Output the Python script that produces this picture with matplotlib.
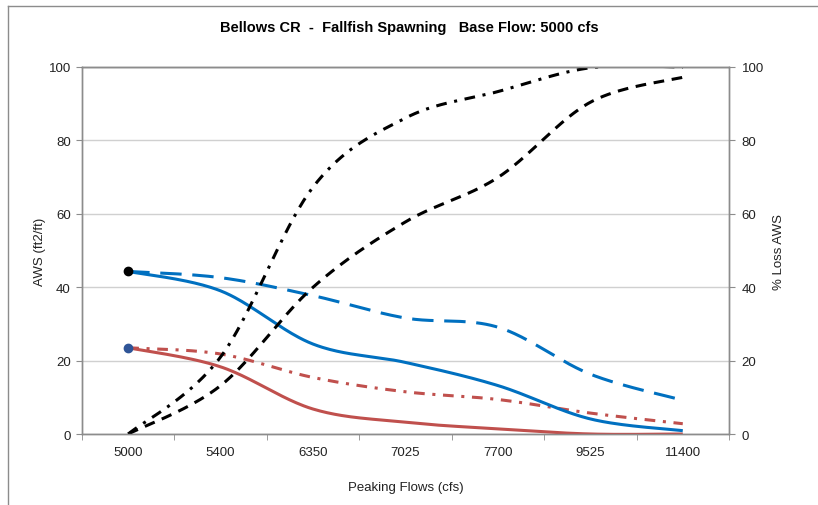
import numpy as np
import matplotlib
matplotlib.use("Agg")
import matplotlib.pyplot as plt
from matplotlib.lines import Line2D

plt.rcParams['font.family'] = ['Liberation Sans', 'DejaVu Sans']

categories = ["5000", "5400", "6350", "7025", "7700", "9525", "11400"]
# AWS (left axis)
aws_blue_solid = [44.3, 39.0, 24.5, 19.5, 13.2, 4.1, 0.9]
aws_blue_dash = [44.3, 42.6, 37.7, 31.6, 29.1, 16.3, 9.2]
aws_red_solid = [23.5, 18.3, 6.8, 3.2, 1.4, 0.0, 0.0]
aws_red_dashdot = [23.5, 21.8, 15.4, 11.5, 9.4, 5.7, 2.8]
# % Loss AWS (right axis)
loss_dashdot = [0.0, 21.0, 67.3, 86.1, 93.3, 99.8, 100.0]
loss_dash = [0.0, 13.2, 40.0, 57.8, 69.9, 90.4, 97.2]

title = "Bellows CR  -  Fallfish Spawning   Base Flow: 5000 cfs"


def smooth(y, n=40):
    """Excel-like smoothed line (Catmull-Rom Bezier)."""
    x = np.arange(len(y), dtype=float)
    y = np.asarray(y, dtype=float)
    P = np.column_stack([x, y])
    out = []
    for i in range(len(P) - 1):
        p0 = P[i - 1] if i > 0 else P[i]
        p1 = P[i]
        p2 = P[i + 1]
        p3 = P[i + 2] if i + 2 < len(P) else P[i + 1]
        c1 = p1 + (p2 - p0) / 6.0
        c2 = p2 - (p3 - p1) / 6.0
        t = np.linspace(0, 1, n)[:, None]
        seg = ((1 - t) ** 3) * p1 + 3 * ((1 - t) ** 2) * t * c1 + 3 * (1 - t) * t ** 2 * c2 + t ** 3 * p2
        if i > 0:
            seg = seg[1:]
        out.append(seg)
    pts = np.vstack(out)
    return pts[:, 0], pts[:, 1]


W, H = 818, 506
fig = plt.figure(figsize=(W / 100, H / 100), dpi=100)

# outer chart border (left and top)
fig.add_artist(Line2D([8 / W, 8 / W], [0, 1 - 7 / H], color='#8c8c8c', lw=1.0, transform=fig.transFigure))
fig.add_artist(Line2D([8 / W, 1], [1 - 7 / H, 1 - 7 / H], color='#8c8c8c', lw=1.0, transform=fig.transFigure))

L, R, T, B = 82, 729, 68, 435
ax = fig.add_axes([L / W, 1 - B / H, (R - L) / W, (B - T) / H])
ax2 = ax.twinx()

blue = '#0070C0'
red = '#C0504D'
lw = 2.2

xs, ys = smooth(aws_red_solid)
ax.plot(xs, ys, color=red, lw=lw, solid_capstyle='butt', zorder=3)
xs, ys = smooth(aws_red_dashdot)
ax.plot(xs, ys, color=red, lw=lw, dashes=(3.5, 2.5, 1, 2.5), zorder=3)
xs, ys = smooth(aws_blue_solid)
ax.plot(xs, ys, color=blue, lw=lw, solid_capstyle='butt', zorder=3)
xs, ys = smooth(aws_blue_dash)
ax.plot(xs, ys, color=blue, lw=lw, dashes=(7, 3.5), zorder=3)
ax.plot([0], [aws_blue_solid[0]], 'o', color='black', ms=6, zorder=5)
ax.plot([0], [aws_red_solid[0]], 'o', color='#2F5597', ms=6, zorder=5)

xs, ys = smooth(loss_dashdot)
ax2.plot(xs, ys, color='black', lw=lw, dashes=(3.5, 2.5, 1, 2.5))
xs, ys = smooth(loss_dash)
ax2.plot(xs, ys, color='black', lw=lw, dashes=(3.5, 2.5))

for a in (ax, ax2):
    a.set_xlim(-0.5, 6.5)
    a.set_ylim(0, 100)
    a.set_yticks(np.arange(0, 101, 20))
    for s in a.spines.values():
        s.set_color('#8c8c8c')
        s.set_linewidth(1.0)
ax.spines['top'].set_color('#606060')

ax.grid(axis='y', color='#d0d0d0', lw=1.0)
ax.set_axisbelow(True)

ax.set_xticks(np.arange(7))
ax.set_xticklabels(categories)
ax.set_xticks(np.arange(-0.5, 7, 1), minor=True)
ax.tick_params(axis='x', which='major', length=0, pad=9, labelsize=9.5, colors='#222222')
ax.tick_params(axis='x', which='minor', length=4, color='#8c8c8c', direction='out')
ax.tick_params(axis='y', length=4, color='#8c8c8c', pad=4, labelsize=9.5, labelcolor='#222222')
ax2.tick_params(axis='y', length=4, color='#8c8c8c', pad=5, labelsize=9.5, labelcolor='#222222')

ax.set_ylabel("AWS (ft2/ft)", fontsize=9.5, color='#222222', labelpad=2)
ax2.set_ylabel("% Loss AWS", fontsize=9.5, color='#222222', labelpad=7, rotation=90)
ax.set_xlabel("Peaking Flows (cfs)", fontsize=9.5, color='#222222', labelpad=16)

fig.text(0.5 * (L + R) / W + 0.005, 1 - 28 / H, title, ha='center', va='center',
         fontsize=10.5, fontweight='bold', color='black')

ax2.set_zorder(ax.get_zorder() + 1)
ax2.patch.set_visible(False)

fig.savefig("out.png", dpi=100)
